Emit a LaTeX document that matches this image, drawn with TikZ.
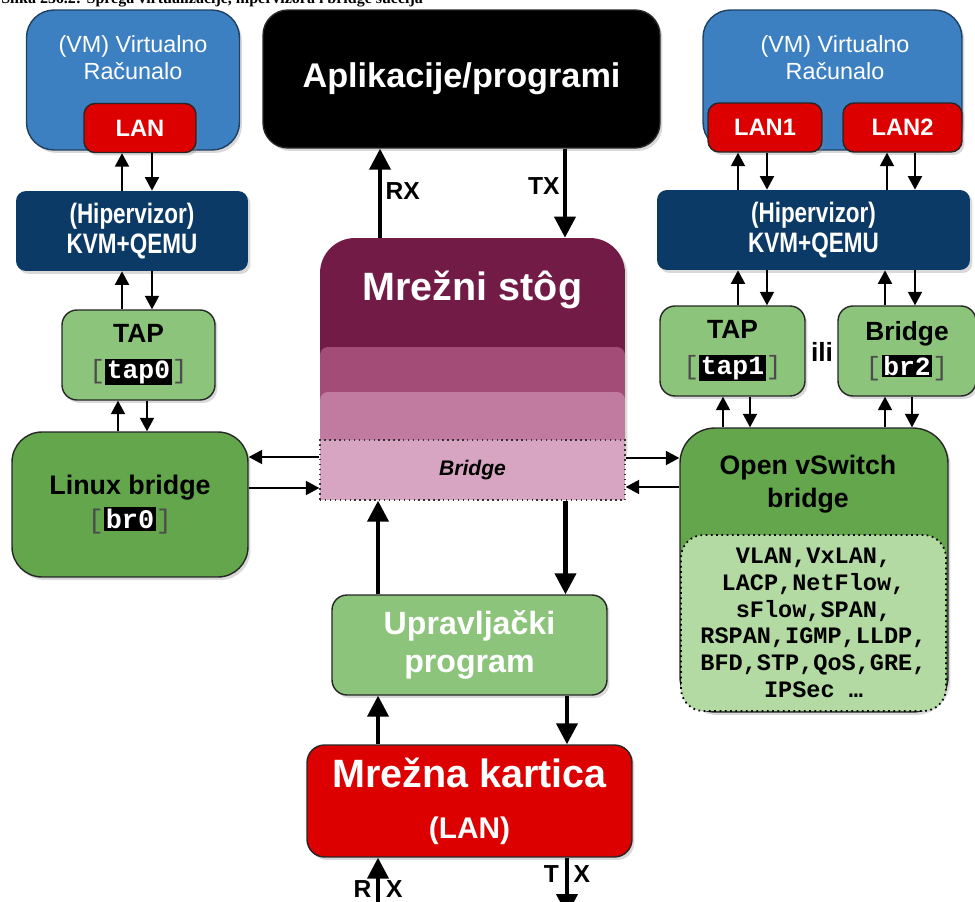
\documentclass[tikz,border=0pt]{standalone}
\usepackage{fontspec}
\setmainfont{Liberation Sans}
\setmonofont{Liberation Mono}
\newfontfamily\captionserif{Liberation Serif}
\usetikzlibrary{positioning,arrows.meta,shadows}

\definecolor{vmblue}{HTML}{3D80C2}
\definecolor{hypblue}{HTML}{0C3A66}
\definecolor{lanred}{HTML}{DC0000}
\definecolor{tapgreen}{HTML}{8DC47B}
\definecolor{brgreen}{HTML}{63A64B}
\definecolor{featgreen}{HTML}{B4DAA4}
\definecolor{stacka}{HTML}{721B46}
\definecolor{stackb}{HTML}{A34C78}
\definecolor{stackc}{HTML}{C17BA1}
\definecolor{stackd}{HTML}{D7A4C1}

% interface name: [name] with a black highlight
\newcommand{\ifname}[1]{{\ttfamily\mdseries\color{black!70}[}{\setlength{\fboxsep}{1pt}\colorbox{black}{\ttfamily\bfseries\textcolor{white}{#1}}}{\ttfamily\mdseries\color{black!70}]}}
\newcommand{\narrow}[1]{\scalebox{0.8}[1]{#1}}

\begin{document}
\begin{tikzpicture}[x=0.02cm, y=-0.02cm,
    shd/.style={drop shadow={shadow xshift=0.05cm, shadow yshift=-0.06cm, opacity=0.3}},
    box/.style={draw=black!85, line width=0.8pt, align=center, inner sep=0pt, shd},
    vmbox/.style={box, fill=vmblue, draw=vmblue!50!black, rounded corners=0.55cm},
    vmtxt/.style={text=white, align=center, inner sep=0pt, font=\fontsize{13.3}{15.5}\selectfont},
    lanbox/.style={box, fill=lanred, text=white, rounded corners=0.22cm, font=\bfseries\fontsize{13.5}{16}\selectfont},
    hypbox/.style={fill=hypblue, rounded corners=0.2cm, text=white, align=center, inner sep=0pt, shd, font=\bfseries\fontsize{16}{17}\selectfont},
    tapbox/.style={box, fill=tapgreen, rounded corners=0.3cm, font=\bfseries\fontsize{15}{20}\selectfont},
    brbox/.style={box, fill=brgreen, rounded corners=0.6cm, font=\bfseries\fontsize{15.3}{19.5}\selectfont},
    featbox/.style={fill=featgreen, draw=black, dotted, line width=1pt, rounded corners=0.45cm, align=center, inner sep=0pt, font=\ttfamily\bfseries\fontsize{13.4}{15.2}\selectfont},
    layer/.style={minimum width=6.1cm, inner sep=0pt, rounded corners=0.16cm},
    sm/.style={-{Triangle[length=0.27cm,width=0.28cm]}, line width=1.1pt},
    big/.style={-{Triangle[length=0.42cm,width=0.42cm]}, line width=2.3pt},
    lbl/.style={font=\bfseries\fontsize{14}{16}\selectfont, inner sep=2pt}
]
    \useasboundingbox (0,0) rectangle (975,902);

    \node[anchor=base west, inner sep=0pt, font=\captionserif\bfseries\fontsize{9.1}{11}\selectfont] (caption) at (1,4) {Slika 256.2: Sprega virtualizacije, hipervizora i bridge sučelja};

    % left: VM with one LAN
    \node[vmbox, minimum width=4.26cm, minimum height=2.8cm] (vml) at (133,80) {};
    \node[vmtxt] (vmltxt) at (133,58) {(VM) Virtualno\\Računalo};
    \node[lanbox, minimum width=2.24cm, minimum height=0.98cm] (lanl) at (140,128) {LAN};
    \node[hypbox, minimum width=4.64cm, minimum height=1.6cm] (hypl) at (132,231) {\narrow{(Hipervizor)}\\\narrow{KVM+QEMU}};
    \node[tapbox, minimum width=3.06cm, minimum height=1.8cm] (tapl) at (138.5,355) {TAP\\\ifname{tap0}};
    \node[brbox, minimum width=4.72cm, minimum height=2.9cm] (brl) at (130,504.5) {Linux bridge\\\ifname{br0}};

    % right: VM with two LANs
    \node[vmbox, minimum width=5.18cm, minimum height=2.8cm] (vmr) at (832.5,80) {};
    \node[vmtxt] (vmrtxt) at (835,58) {(VM) Virtualno\\Računalo};
    \node[lanbox, minimum width=2.28cm, minimum height=0.98cm] (lanra) at (765,127.5) {LAN1};
    \node[lanbox, minimum width=2.38cm, minimum height=0.98cm] (lanrb) at (902.5,127.5) {LAN2};
    \node[hypbox, minimum width=6.26cm, minimum height=1.6cm] (hypr) at (813.5,230) {\narrow{(Hipervizor)}\\\narrow{KVM+QEMU}};
    \node[tapbox, minimum width=2.9cm, minimum height=1.8cm] (tapr) at (732.5,351) {TAP\\\ifname{tap1}};
    \node[tapbox, minimum width=2.76cm, minimum height=1.8cm] (bridger) at (907,351) {Bridge\\\ifname{br2}};
    \node[font=\bfseries\fontsize{15}{18}\selectfont, inner sep=0pt] (ili) at (822,352) {ili};
    \node[brbox, minimum width=5.36cm, minimum height=5.68cm, rounded corners=0.7cm] (ovs) at (814,570) {};
    \node[featbox, minimum width=5.3cm, minimum height=3.52cm] (feat) at (813.5,623)
        {VLAN,VxLAN,\\LACP,NetFlow,\\sFlow,SPAN,\\RSPAN,IGMP,LLDP,\\BFD,STP,QoS,GRE,\\IPSec …};
    \node[align=center, inner sep=0pt, font=\bfseries\fontsize{15.2}{18.5}\selectfont] (ovstxt) at (808,484) {Open vSwitch\\bridge};

    % middle
    \node[box, fill=black, text=white, rounded corners=0.5cm, minimum width=7.94cm, minimum height=2.76cm,
          font=\bfseries\fontsize{19.5}{22}\selectfont] (app) at (461.5,79) {Aplikacije/programi};

    \node[layer, fill=stacka, minimum height=4.84cm, rounded corners=0.7cm, shd] (stk) at (472.5,359) {};
    \node[text=white, inner sep=0pt, font=\bfseries\fontsize{22.5}{26}\selectfont] (stktxt) at (472.5,290) {Mrežni stôg};
    \node[layer, fill=stackb, minimum height=1.16cm] (stkb) at (472.5,376) {};
    \node[layer, fill=stackc, minimum height=1.16cm] (stkc) at (472.5,421) {};
    \node[layer, fill=stackd, minimum height=1.2cm, rounded corners=0pt, draw=black!80, dotted, line width=0.8pt,
          font=\bfseries\itshape\fontsize{12}{14}\selectfont] (stkbr) at (472.5,470) {Bridge};

    \node[box, fill=tapgreen, text=white, rounded corners=0.3cm, minimum width=5.5cm, minimum height=2cm,
          font=\bfseries\fontsize{18.3}{21.5}\selectfont] (upr) at (469.5,645) {Upravljački\\program};
    \node[box, fill=lanred, text=white, rounded corners=0.35cm, minimum width=6.5cm, minimum height=2.24cm,
          font=\bfseries\fontsize{22.5}{27}\selectfont] (kart) at (469.5,801) {Mrežna kartica\\[2pt]{\fontsize{17}{20}\selectfont(LAN)}};

    \coordinate (rxin) at (378,915);
    \coordinate (txout) at (567,915);

    % left arrows
    \draw[sm] ([xshift=-0.36cm]lanl.south |- hypl.north) -- ([xshift=-0.36cm]lanl.south);
    \draw[sm] ([xshift=0.24cm]lanl.south) -- ([xshift=0.24cm]lanl.south |- hypl.north);
    \draw[sm] ([xshift=-0.33cm]tapl.north) -- ([xshift=-0.33cm]tapl.north |- hypl.south);
    \draw[sm] ([xshift=0.27cm]tapl.north |- hypl.south) -- ([xshift=0.27cm]tapl.north);
    \draw[sm] ([xshift=-0.41cm]tapl.south |- brl.north) -- ([xshift=-0.41cm]tapl.south);
    \draw[sm] ([xshift=0.17cm]tapl.south) -- ([xshift=0.17cm]tapl.south |- brl.north);
    \draw[sm] ([yshift=0.26cm]stkbr.west) -- ([yshift=0.26cm]stkbr.west -| brl.east);
    \draw[sm] ([yshift=-0.36cm]stkbr.west -| brl.east) -- ([yshift=-0.36cm]stkbr.west);

    % right arrows
    \draw[sm] ([xshift=-0.54cm]lanra.south |- hypr.north) -- ([xshift=-0.54cm]lanra.south);
    \draw[sm] ([xshift=0.04cm]lanra.south) -- ([xshift=0.04cm]lanra.south |- hypr.north);
    \draw[sm] ([xshift=-0.31cm]lanrb.south |- hypr.north) -- ([xshift=-0.31cm]lanrb.south);
    \draw[sm] ([xshift=0.25cm]lanrb.south) -- ([xshift=0.25cm]lanrb.south |- hypr.north);
    \draw[sm] ([xshift=0.11cm]tapr.north) -- ([xshift=0.11cm]tapr.north |- hypr.south);
    \draw[sm] ([xshift=0.69cm]tapr.north |- hypr.south) -- ([xshift=0.69cm]tapr.north);
    \draw[sm] ([xshift=-0.44cm]bridger.north) -- ([xshift=-0.44cm]bridger.north |- hypr.south);
    \draw[sm] ([xshift=0.16cm]bridger.north |- hypr.south) -- ([xshift=0.16cm]bridger.north);
    \draw[sm] ([xshift=-0.19cm]tapr.south |- ovs.north) -- ([xshift=-0.19cm]tapr.south);
    \draw[sm] ([xshift=0.35cm]tapr.south) -- ([xshift=0.35cm]tapr.south |- ovs.north);
    \draw[sm] ([xshift=-0.44cm]bridger.south |- ovs.north) -- ([xshift=-0.44cm]bridger.south);
    \draw[sm] ([xshift=0.1cm]bridger.south) -- ([xshift=0.1cm]bridger.south |- ovs.north);
    \draw[sm] ([yshift=0.24cm]stkbr.east) -- ([yshift=0.24cm]stkbr.east -| ovs.west);
    \draw[sm] ([yshift=-0.34cm]stkbr.east -| ovs.west) -- ([yshift=-0.34cm]stkbr.east);

    % middle arrows
    \draw[big] ([xshift=-1.85cm]stk.north) -- ([xshift=-1.85cm]stk.north |- app.south) node[lbl, right, pos=0.52] {RX};
    \draw[big] ([xshift=1.85cm]stk.north |- app.south) -- ([xshift=1.85cm]stk.north) node[lbl, left, pos=0.42] {TX};
    \draw[big] ([xshift=-1.89cm]stkbr.south |- upr.north) -- ([xshift=-1.89cm]stkbr.south);
    \draw[big] ([xshift=1.86cm]stkbr.south) -- ([xshift=1.86cm]stkbr.south |- upr.north);
    \draw[big] ([xshift=-1.83cm]upr.south |- kart.north) -- ([xshift=-1.83cm]upr.south);
    \draw[big] ([xshift=1.95cm]upr.south) -- ([xshift=1.95cm]upr.south |- kart.north);
    \draw[big] (rxin) -- (rxin |- kart.south) node[lbl, pos=0.45] {R\hspace{0.6em}X};
    \draw[big] (txout |- kart.south) -- (txout) node[lbl, pos=0.28] {T\hspace{0.6em}X};
\end{tikzpicture}
\end{document}
